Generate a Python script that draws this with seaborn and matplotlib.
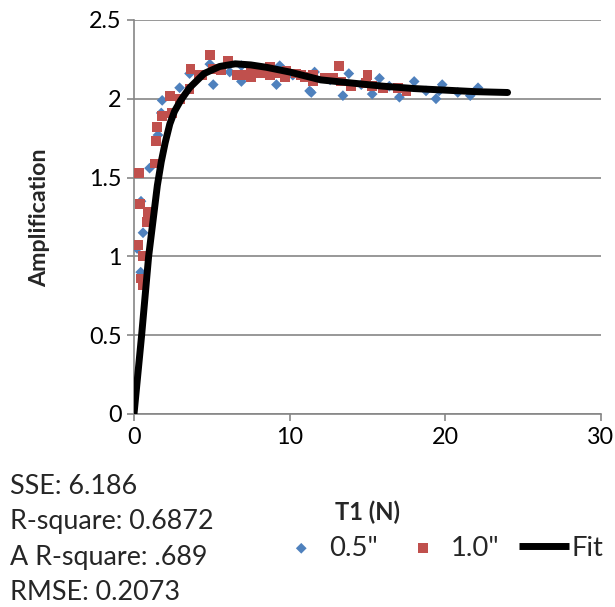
import matplotlib
matplotlib.use("Agg")
import matplotlib.pyplot as plt
from matplotlib.font_manager import FontProperties
from matplotlib.textpath import TextPath
import seaborn as sns
import pandas as pd

# ---- data ----
x_05 = [0.2, 0.43, 0.45, 0.58, 1.0, 1.54, 1.75, 1.81, 2.93, 3.57, 4.87, 5.09, 6.15, 6.9, 6.9,
        7.8, 9.15, 9.36, 11.28, 11.39, 11.6, 13.42, 13.8, 15.3, 15.77, 17.05, 18.0, 18.76,
        19.4, 19.6, 19.8, 20.8, 21.6, 22.1, 8.2, 10.2, 12.6, 14.6, 16.4]
y_05 = [1.05, 0.90, 1.35, 1.15, 1.56, 1.77, 1.91, 1.99, 2.07, 2.16, 2.22, 2.09, 2.17, 2.21, 2.11,
        2.17, 2.09, 2.21, 2.05, 2.04, 2.17, 2.02, 2.16, 2.03, 2.13, 2.01, 2.11, 2.05,
        2.00, 2.05, 2.09, 2.04, 2.02, 2.07, 2.19, 2.15, 2.12, 2.09, 2.08]

x_10 = [0.26, 0.3, 0.38, 0.47, 0.58, 0.58, 0.8, 0.9, 1.33, 1.43, 1.49, 1.81, 2.29, 2.46, 2.93,
        3.57, 3.63, 4.2, 4.36, 4.87, 5.09, 5.6, 6.05, 6.58, 7.0, 7.54, 7.54, 8.08, 8.72, 8.72,
        9.15, 9.68, 9.8, 10.4, 10.75, 10.96, 11.5, 11.5, 12.24, 12.8, 13.16, 13.3, 13.95,
        14.9, 15.0, 15.3, 15.98, 16.94, 17.5]
y_10 = [1.07, 1.53, 1.33, 0.86, 1.00, 0.82, 1.22, 1.28, 1.59, 1.73, 1.82, 1.89, 2.02, 1.91, 2.00,
        2.06, 2.19, 2.15, 2.15, 2.28, 2.19, 2.18, 2.24, 2.15, 2.15, 2.19, 2.14, 2.16, 2.20, 2.15,
        2.16, 2.14, 2.18, 2.16, 2.15, 2.14, 2.15, 2.11, 2.13, 2.13, 2.21, 2.11, 2.08,
        2.10, 2.15, 2.08, 2.07, 2.07, 2.05]

x_fit = [0, 0.49, 0.94, 1.5, 1.75, 2.0, 2.3, 2.6, 3.0, 3.57, 4.5, 5.5, 6.5, 7.5, 8.5, 10, 12, 14,
         16, 18, 20, 22, 24]
y_fit = [0, 0.5, 1.0, 1.45, 1.6, 1.72, 1.84, 1.92, 1.99, 2.07, 2.16, 2.205, 2.222, 2.215, 2.2,
         2.17, 2.12, 2.10, 2.08, 2.065, 2.055, 2.045, 2.04]

x_ticks = [0, 10, 20, 30]
y_ticks = [0, 0.5, 1, 1.5, 2, 2.5]
y_tick_labels = ["0", "0.5", "1", "1.5", "2", "2.5"]
stats = ["SSE: 6.186", "R-square: 0.6872", "A R-square: .689", "RMSE: 0.2073"]

BLUE = "#4F81BD"
RED = "#C0504D"
GRID = "#868686"
FAMILY = "Lato"
DPI = 100

sns.set_style("white")
plt.rcParams["font.family"] = [FAMILY, "DejaVu Sans"]


def fit_size(text, target_px, weight="normal"):
    """font size (pt) so that text is target_px wide at DPI."""
    fp = FontProperties(family=FAMILY, weight=weight, size=10)
    w = TextPath((0, 0), text, prop=fp).get_extents().width
    w_px = w * DPI / 72.0
    return 10 * target_px / w_px


tick_fs = fit_size("2.5", 30)
stats_fs = fit_size("R-square: 0.6872", 200)
xlab_fs = fit_size("T1 (N)", 64, "bold")
ylab_fs = fit_size("Amplification", 138, "bold")
leg_fs = fit_size('0.5"', 46)
leg_px = leg_fs * DPI / 72

fig = plt.figure(figsize=(6.15, 6.07), dpi=DPI)
ax = fig.add_axes([134 / 615, 1 - 414 / 607, (601 - 134) / 615, (414 - 20) / 607])

df05 = pd.DataFrame({"x": x_05, "y": y_05})
df10 = pd.DataFrame({"x": x_10, "y": y_10})
dff = pd.DataFrame({"x": x_fit, "y": y_fit})

sns.scatterplot(data=df05, x="x", y="y", ax=ax, marker="D", s=30, color=BLUE,
                edgecolor="none", label='0.5"', zorder=3)
sns.scatterplot(data=df10, x="x", y="y", ax=ax, marker="s", s=50, color=RED,
                edgecolor="none", label='1.0"', zorder=4)
sns.lineplot(data=dff, x="x", y="y", ax=ax, color="black", lw=5, sort=False,
             estimator=None, label="Fit", zorder=5)

ax.set_xlim(0, 30)
ax.set_ylim(0, 2.5)
ax.set_xticks(x_ticks)
ax.set_yticks(y_ticks)
ax.set_xticklabels([str(v) for v in x_ticks])
ax.set_yticklabels(y_tick_labels)
ax.yaxis.grid(True, color=GRID, lw=1.2)
ax.xaxis.grid(False)
ax.set_axisbelow(True)
for s in ["top", "right"]:
    ax.spines[s].set_visible(False)
for s in ["left", "bottom"]:
    ax.spines[s].set_color(GRID)
    ax.spines[s].set_linewidth(1.2)
ax.tick_params(axis="both", which="both", direction="out", length=5, width=1.2,
               color=GRID, labelsize=tick_fs, labelcolor="black", pad=4,
               left=True, bottom=True)

ax.set_xlabel("")
ax.set_ylabel("")
fig.text(367 / 615, 1 - 512 / 607, "T1 (N)", ha="center", va="center",
         fontsize=xlab_fs, fontweight="bold")
fig.text(40 / 615, 1 - 218 / 607, "Amplification", ha="center", va="center",
         rotation=90, fontsize=ylab_fs, fontweight="bold")

for i, t in enumerate(stats):
    fig.text(10 / 615, 1 - (494 + 35.3 * i) / 607, t, ha="left", va="baseline",
             fontsize=stats_fs)

leg = ax.legend(loc="center", bbox_to_anchor=(440 / 615, 1 - 548 / 607),
                bbox_transform=fig.transFigure, ncol=3, frameon=False, fontsize=leg_fs,
                handlelength=50 / leg_px, handletextpad=0.1,
                columnspacing=20 / leg_px, borderpad=0, borderaxespad=0)
for ln in leg.get_lines():
    ln.set_solid_capstyle("butt")

fig.savefig("out.png", dpi=DPI)
